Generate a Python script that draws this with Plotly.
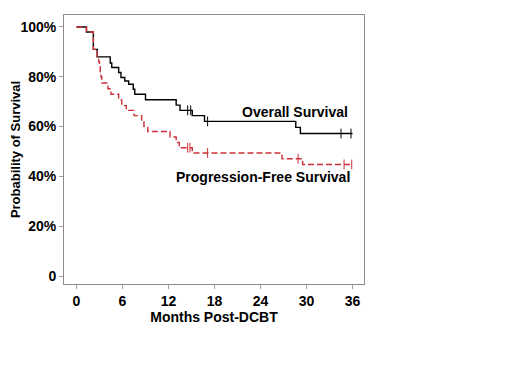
import plotly.graph_objects as go

# ---- data ----
os_time = [0, 1.3, 2.2, 2.7, 4.4, 4.6, 5.5, 5.8, 6.3, 6.8, 7.4, 7.6, 9.0, 13.0, 13.5, 15.1, 16.7, 28.6, 29.2, 36.0]
os_surv = [100, 98, 91, 88, 85.5, 83.7, 81.7, 79.7, 78.3, 77, 75, 73, 70.8, 68.6, 66.5, 64.4, 62.1, 59.7, 57.2, 57.2]
os_cens = [14.5, 14.9, 17.1, 34.5, 35.8]

pfs_time = [0, 1.3, 2.2, 2.7, 2.9, 3.0, 3.1, 3.2, 3.3, 4.1, 4.5, 5.5, 5.9, 6.5, 7.5, 8.5, 8.8, 9.3, 12.2, 13.0, 13.4, 15.1, 26.8, 29.5, 36.0]
pfs_surv = [100, 98, 91, 88, 86, 84, 82, 80, 77.5, 75.2, 73, 70.7, 68.4, 66.5, 64.4, 62, 60, 58, 55.8, 53.6, 51.5, 49.4, 47.1, 44.8, 44.8]
pfs_cens = [14.5, 14.8, 17.1, 28.9, 34.9, 35.9]

x_ticks = [0, 6, 12, 18, 24, 30, 36]
y_ticks = [0, 20, 40, 60, 80, 100]
y_labels = ["0", "20%", "40%", "60%", "80%", "100%"]


def step_at(times, survs, t):
    val = survs[0]
    for ti, si in zip(times, survs):
        if ti <= t:
            val = si
    return val


FONT = "Liberation Sans, Arial, sans-serif"
RED = "#cc3038"

fig = go.Figure()
fig.add_trace(go.Scatter(x=os_time, y=os_surv, mode="lines", line=dict(color="black", width=1.4, shape="hv"),
                         hoverinfo="skip", showlegend=False))
fig.add_trace(go.Scatter(x=os_cens, y=[step_at(os_time, os_surv, t) for t in os_cens], mode="markers",
                         marker=dict(symbol="line-ns-open", size=7, color="black", line=dict(color="black", width=1)),
                         showlegend=False))
fig.add_trace(go.Scatter(x=pfs_time, y=pfs_surv, mode="lines",
                         line=dict(color=RED, width=1.4, shape="hv", dash="6px,3px"),
                         hoverinfo="skip", showlegend=False))
fig.add_trace(go.Scatter(x=pfs_cens, y=[step_at(pfs_time, pfs_surv, t) for t in pfs_cens], mode="markers",
                         marker=dict(symbol="line-ns-open", size=7, color=RED, line=dict(color=RED, width=1)),
                         showlegend=False))

fig.add_annotation(x=35.7, y=66, xref="x", yref="y", text="<b>Overall Survival</b>", showarrow=False,
                   xanchor="right", yanchor="middle", font=dict(family=FONT, size=14, color="black"))
fig.add_annotation(x=24.3, y=39.8, xref="x", yref="y", text="<b>Progression-Free Survival</b>", showarrow=False,
                   xanchor="center", yanchor="middle", font=dict(family=FONT, size=14, color="black"))

# the page body adds an 8px offset, so margins are shifted to place the frame at the reference position
fig.update_layout(
    width=520, height=390,
    margin=dict(l=56, r=164, t=7, b=114),
    paper_bgcolor="white", plot_bgcolor="white",
    font=dict(family=FONT, size=14, color="black"),
)
fig.update_xaxes(range=[-1.63, 37.5], tickvals=x_ticks, ticktext=[f"<b>{v}</b>" for v in x_ticks],
                 automargin=False,
                 showgrid=False, zeroline=False, showline=True, mirror=True, linecolor="#8c8c8c", linewidth=1,
                 ticks="outside", ticklen=4, tickcolor="#a0a0a0",
                 tickfont=dict(family=FONT, size=14, color="black"),
                 title=dict(text="<b>Months Post-DCBT</b>", font=dict(family=FONT, size=14, color="black"), standoff=2))
fig.update_yaxes(range=[-3.2, 104.8], tickvals=y_ticks, ticktext=[f"<b>{t}</b>" for t in y_labels],
                 automargin=False,
                 showgrid=False, zeroline=False, showline=True, mirror=True, linecolor="#8c8c8c", linewidth=1,
                 ticks="outside", ticklen=4, tickcolor="#a0a0a0",
                 tickfont=dict(family=FONT, size=14, color="black"),
                 title=dict(text="<b>Probability of Survival</b>", font=dict(family=FONT, size=13, color="black"), standoff=6))

fig.write_html("out.html")
